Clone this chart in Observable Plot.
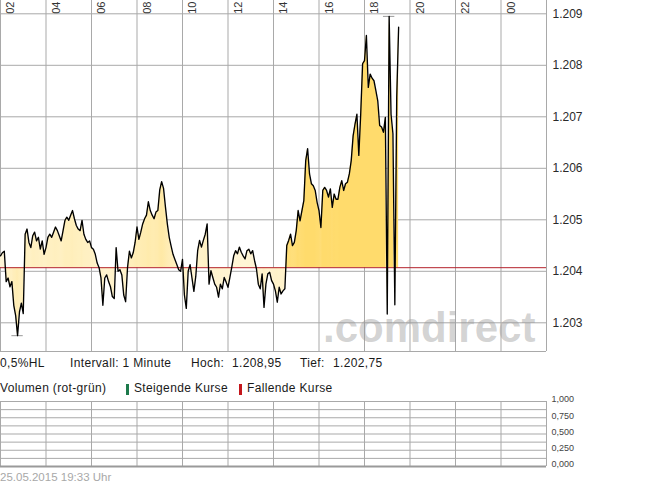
<!DOCTYPE html>
<html><head><meta charset="utf-8">
<script src="https://cdn.jsdelivr.net/npm/d3@7"></script>
<script src="https://cdn.jsdelivr.net/npm/@observablehq/plot@0.6"></script>
<style>
body{margin:0;background:#fff;font-family:"Liberation Sans",Arial,sans-serif;}
#wrap{position:relative;width:645px;height:483px;overflow:hidden;background:#fff;}
#wrap svg{position:absolute;left:0;}
.t{position:absolute;white-space:nowrap;font-size:12px;line-height:12px;color:#1a1a1a;letter-spacing:0.35px;}
.mark{position:absolute;width:3px;height:11px;}
#wm{position:absolute;left:323px;top:307px;font-size:42px;line-height:42px;font-weight:bold;color:rgba(150,150,150,0.42);white-space:nowrap;}
#stamp{position:absolute;left:0;top:472px;font-size:11.5px;line-height:11.5px;color:#a8a8a8;white-space:nowrap;}
</style></head><body><div id="wrap"></div>
<script>
// ---- data ----
const startUTC = Date.UTC(2015, 4, 25, 2, 0);
const stepMinutes = 5;
const prices = [
1.20430,1.20436,1.20439,1.20380,1.20387,1.20370,1.20380,1.20334,1.20314,1.20275,
1.20321,1.20338,1.20318,1.20472,1.20482,1.20456,1.20446,1.20469,1.20476,1.20459,
1.20466,1.20443,1.20459,1.20433,1.20446,1.20466,1.20472,1.20466,1.20476,1.20486,
1.20479,1.20469,1.20459,1.20479,1.20499,1.20505,1.20499,1.20509,1.20518,1.20502,
1.20489,1.20482,1.20479,1.20499,1.20472,1.20462,1.20456,1.20459,1.20446,1.20443,
1.20433,1.20416,1.20407,1.20387,1.20334,1.20387,1.20393,1.20380,1.20370,1.20351,
1.20347,1.20446,1.20400,1.20403,1.20393,1.20354,1.20341,1.20407,1.20439,1.20426,
1.20436,1.20456,1.20486,1.20462,1.20476,1.20492,1.20502,1.20509,1.20535,1.20518,
1.20509,1.20502,1.20515,1.20518,1.20558,1.20574,1.20561,1.20525,1.20492,1.20466,
1.20449,1.20433,1.20423,1.20413,1.20403,1.20400,1.20423,1.20354,1.20328,1.20400,
1.20413,1.20387,1.20361,1.20390,1.20440,1.20460,1.20447,1.20460,1.20472,1.20492,
1.20375,1.20401,1.20388,1.20375,1.20369,1.20350,1.20375,1.20366,1.20388,1.20379,
1.20369,1.20388,1.20408,1.20430,1.20440,1.20434,1.20447,1.20437,1.20430,1.20424,
1.20440,1.20443,1.20434,1.20440,1.20421,1.20405,1.20375,1.20366,1.20395,1.20330,
1.20375,1.20395,1.20398,1.20382,1.20375,1.20362,1.20340,1.20369,1.20356,1.20362,
1.20366,1.20450,1.20460,1.20472,1.20450,1.20456,1.20479,1.20518,1.20498,1.20518,
1.20537,1.20615,1.20638,1.20589,1.20570,1.20566,1.20557,1.20534,1.20518,1.20485,
1.20557,1.20563,1.20557,1.20544,1.20560,1.20524,1.20550,1.20540,1.20540,1.20563,
1.20576,1.20557,1.20570,1.20573,1.20589,1.20615,1.20663,1.20686,1.20705,1.20625,
1.20705,1.20803,1.20809,1.20858,1.20757,1.20783,1.20775,1.20770,1.20751,1.20731,
1.20683,1.20680,1.20670,1.20699,1.20317,1.20895,1.20705,1.20667,1.20335,1.20738,
1.20874
];
const previousClose = 1.20407;
const dayHigh = 1.20895;
const dayLow = 1.20275;
const hourTicks = [2,4,6,8,10,12,14,16,18,20,22,24];
const hourLabels = ["02","04","06","08","10","12","14","16","18","20","22","00"];
const priceTicks = [1.203,1.204,1.205,1.206,1.207,1.208,1.209];
const volumeTicks = [0,0.25,0.5,0.75,1];
const volumeGrid = [0,0.125,0.25,0.375,0.5,0.625,0.75,0.875,1];
const infoLine = ["0,5%HL","Intervall: 1 Minute","Hoch:","1.208,95","Tief:","1.202,75"];
const legendLine = ["Volumen (rot-grün)","Steigende Kurse","Fallende Kurse"];
const stampText = "25.05.2015 19:33 Uhr";
const watermark = ".comdirect";

// ---- build ----
const data = prices.map((p, i) => ({t: new Date(startUTC + i * stepMinutes * 60000), p}));
const sgn = data.map(d => (d.p - previousClose) >= 0 ? 1 : -1);
for (let s = 0, i = 1; i <= data.length; i++) {
  if (i === data.length || sgn[i] !== sgn[s]) {
    const m = d3.max(data.slice(s, i), d => Math.abs(d.p - previousClose));
    for (let k = s; k < i; k++) data[k].seg = m;
    s = i;
  }
}
const hourDates = hourTicks.map(h => new Date(Date.UTC(2015, 4, 25, h)));
const xDomain = [new Date(startUTC), new Date(startUTC + 24 * 3600000)];
const iLow = prices.indexOf(dayLow), iHigh = prices.indexOf(dayHigh);
const extremes = [
  {t: data[iLow].t, v: dayLow},
  {t: data[iHigh].t, v: dayHigh}
];
const half = 15 * 60000;
const gridColor = "#a9a9a9";
const font = "Liberation Sans, Arial, sans-serif";

const wrap = document.getElementById("wrap");

const priceChart = Plot.plot({
  width: 645, height: 353,
  marginLeft: 0, marginRight: 99, marginTop: 0, marginBottom: 2,
  style: {fontFamily: font, background: "transparent", overflow: "visible"},
  x: {type: "utc", domain: xDomain, axis: null},
  y: {domain: [1.2024427, 1.2092583], axis: null},
  marks: [
    Plot.gridX(hourDates, {stroke: gridColor, strokeOpacity: 1}),
    Plot.gridY(priceTicks, {stroke: gridColor, strokeOpacity: 1}),
    Plot.ruleX([xDomain[1]], {stroke: gridColor}),
    Plot.ruleY([1.2024427], {stroke: gridColor}),
    Plot.areaY(data, {x: "t", y1: () => previousClose, y2: "p", fill: "url(#areaGrad)", curve: "linear"}),
    Plot.ruleY([previousClose], {stroke: "#b3202a", strokeWidth: 1}),
    Plot.ruleY(extremes, {y: "v", x1: d => new Date(+d.t - half), x2: d => new Date(+d.t + half), stroke: "#999"}),
    Plot.line(data, {x: "t", y: "p", stroke: "#000", strokeWidth: 1.35}),
    Plot.text(hourDates.map((t, i) => ({t, label: hourLabels[i]})), {
      x: "t", text: "label", frameAnchor: "top", rotate: -90, textAnchor: "end",
      dx: 6, dy: 1, fontSize: 11, fill: "#333"
    }),
    Plot.axisY(priceTicks, {anchor: "right", tickSize: 0, tickPadding: 6, fontSize: 12, fill: "#2a2a2a",
      tickFormat: d => d.toFixed(3)})
  ]
});
priceChart.style.top = "0px";
// horizontal gradient derived from the data
(function () {
  const xs = priceChart.scale("x");
  const ns = "http://www.w3.org/2000/svg";
  const defs = document.createElementNS(ns, "defs");
  const g = document.createElementNS(ns, "linearGradient");
  g.setAttribute("id", "areaGrad");
  g.setAttribute("gradientUnits", "userSpaceOnUse");
  const x0 = xs.apply(data[0].t), x1 = xs.apply(data[data.length - 1].t);
  g.setAttribute("x1", x0); g.setAttribute("x2", x1);
  g.setAttribute("y1", 0); g.setAttribute("y2", 0);
  const col = d3.interpolateRgb("#fff8e2", "#ffdb6c");
  data.forEach(d => {
    const local = Math.abs(d.p - previousClose);
    const v = Math.min(1, (0.4 * local + 0.6 * d.seg) / 0.0033);
    const st = document.createElementNS(ns, "stop");
    st.setAttribute("offset", (xs.apply(d.t) - x0) / (x1 - x0));
    st.setAttribute("stop-color", col(v));
    g.appendChild(st);
  });
  defs.appendChild(g);
  priceChart.insertBefore(defs, priceChart.firstChild);
})();
wrap.appendChild(priceChart);

const wm = document.createElement("div");
wm.id = "wm"; wm.textContent = watermark;
wrap.appendChild(wm);

// info line
const infoX = [0, 70, 191, 232, 300, 333];
infoLine.forEach((s, i) => {
  const d = document.createElement("div");
  d.className = "t"; d.textContent = s;
  d.style.left = infoX[i] + "px"; d.style.top = "357px";
  wrap.appendChild(d);
});
// legend line
const legX = [0, 134, 247];
legendLine.forEach((s, i) => {
  const d = document.createElement("div");
  d.className = "t"; d.textContent = s;
  d.style.left = legX[i] + "px"; d.style.top = "382px";
  wrap.appendChild(d);
});
[["#1d7a4c", 126], ["#c4161c", 239]].forEach(([c, x]) => {
  const m = document.createElement("div");
  m.className = "mark"; m.style.background = c;
  m.style.left = x + "px"; m.style.top = "384px";
  wrap.appendChild(m);
});

const vol = Plot.plot({
  width: 645, height: 74,
  marginLeft: 0, marginRight: 99, marginTop: 5, marginBottom: 4,
  style: {fontFamily: font, background: "transparent", overflow: "visible"},
  x: {type: "utc", domain: xDomain, axis: null},
  y: {domain: [0, 1], axis: null},
  marks: [
    Plot.gridX(hourDates, {stroke: gridColor, strokeOpacity: 1}),
    Plot.gridY(volumeGrid, {stroke: gridColor, strokeOpacity: 1}),
    Plot.ruleX([xDomain[1]], {stroke: gridColor}),
    Plot.ruleY([0], {stroke: "#9a9a9a", strokeWidth: 2}),
    Plot.axisY(volumeTicks, {anchor: "right", tickSize: 0, tickPadding: 5, fontSize: 9, fill: "#444", dy: -2,
      tickFormat: d => d.toFixed(3).replace(".", ",")})
  ]
});
vol.style.top = "396px";
wrap.appendChild(vol);

const stampEl = document.createElement("div");
stampEl.id = "stamp"; stampEl.textContent = stampText;
wrap.appendChild(stampEl);
</script></body></html>
